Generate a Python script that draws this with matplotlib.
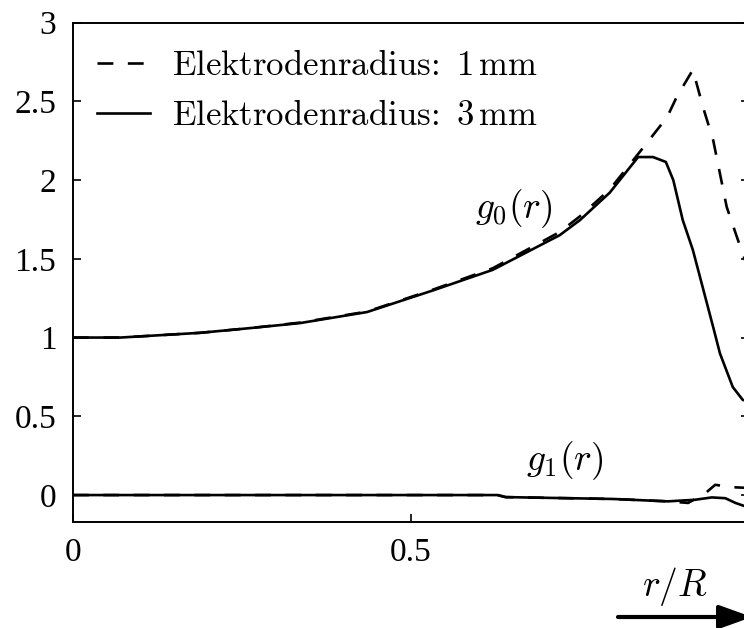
import matplotlib
matplotlib.use("Agg")
import matplotlib.pyplot as plt

plt.rcParams['font.family'] = ['cmr10', 'DejaVu Serif']
plt.rcParams['mathtext.fontset'] = 'cm'
plt.rcParams['axes.formatter.use_mathtext'] = True

# g0(r), electrode radius 3 mm (solid)
r_g0_3mm = [0.0, 0.07, 0.188, 0.262, 0.336, 0.435, 0.533, 0.621, 0.72, 0.75, 0.794,
            0.836, 0.858, 0.877, 0.888, 0.902, 0.917, 0.947, 0.957, 0.976, 0.991, 1.0]
g0_3mm = [1.0, 1.0, 1.03, 1.06, 1.092, 1.162, 1.30, 1.43, 1.65, 1.746, 1.92,
          2.146, 2.146, 2.115, 2.0, 1.746, 1.556, 1.067, 0.90, 0.686, 0.603, 0.60]

# g0(r), electrode radius 1 mm (dashed)
r_g0_1mm = [0.0, 0.07, 0.188, 0.262, 0.336, 0.435, 0.533, 0.621, 0.72, 0.75, 0.794,
            0.843, 0.879, 0.893, 0.917, 0.932, 0.947, 0.967, 0.982, 1.0]
g0_1mm = [1.0, 1.0, 1.03, 1.06, 1.095, 1.165, 1.305, 1.44, 1.67, 1.77, 1.94,
          2.203, 2.40, 2.527, 2.70, 2.463, 2.254, 1.83, 1.64, 1.42]

# g1(r)
r_g1_3mm = [0.0, 0.2, 0.4, 0.628, 0.64, 0.80, 0.88, 0.92, 0.945, 0.965, 0.98, 1.0]
g1_3mm = [0.0, 0.0, 0.0, 0.0, -0.013, -0.025, -0.04, -0.03, -0.015, -0.02, -0.05, -0.08]
r_g1_1mm = [0.0, 0.2, 0.4, 0.628, 0.64, 0.80, 0.88, 0.91, 0.935, 0.95, 0.975, 1.0]
g1_1mm = [0.0, 0.0, 0.0, 0.0, -0.013, -0.025, -0.04, -0.05, 0.01, 0.065, 0.05, 0.045]

x_ticks = [0, 0.5, 1]
x_tick_labels = ['0', '0.5', '1']
y_ticks = [0, 0.5, 1, 1.5, 2, 2.5, 3]
y_tick_labels = ['0', '0.5', '1', '1.5', '2', '2.5', '3']

fig = plt.figure(figsize=(7.44, 6.28), dpi=100)
ax = fig.add_axes([0.0981, 0.1688, 0.9086, 0.7953])

lw = 1.9
dash = (0, (6, 5.5))
ax.plot(r_g0_1mm, g0_1mm, color='k', lw=lw, ls=dash, label=r'Elektrodenradius: $\,$1$\,$mm')
ax.plot(r_g0_3mm, g0_3mm, color='k', lw=lw, label=r'Elektrodenradius: $\,$3$\,$mm')
ax.plot(r_g1_1mm, g1_1mm, color='k', lw=lw, ls=dash)
ax.plot(r_g1_3mm, g1_3mm, color='k', lw=lw)

ax.text(0.652, 1.82, r'$g_0(r)$', fontsize=27, ha='center', va='center')
ax.text(0.728, 0.216, r'$g_1(r)$', fontsize=27, ha='center', va='center')

ax.set_xlim(0, 1)
ax.set_ylim(-0.171, 3)
ax.set_xticks(x_ticks)
ax.set_xticklabels(x_tick_labels, fontfamily='Liberation Serif')
ax.set_yticks(y_ticks)
ax.set_yticklabels(y_tick_labels, fontfamily='Liberation Serif')
ax.tick_params(direction='in', length=6, width=1.2, labelsize=24,
               right=True, top=False)
ax.tick_params(axis='y', pad=12)
ax.tick_params(axis='x', pad=11)
for s in ax.spines.values():
    s.set_linewidth(1.4)

ax.legend(loc='upper left', bbox_to_anchor=(0.0355, 0.945), borderaxespad=0,
          borderpad=0, frameon=False, fontsize=25, handlelength=1.53,
          handletextpad=0.63, labelspacing=0.53)

# r/R arrow below the axis
fig.text(675 / 744, 1 - 587 / 628, r'$r/R$', fontsize=27, ha='center', va='center')
ax.annotate('', xy=(752, 11), xycoords='figure pixels',
            xytext=(618, 11), textcoords='figure pixels',
            arrowprops=dict(arrowstyle='-|>,head_length=1.0,head_width=0.36',
                            mutation_scale=20, lw=3, color='k',
                            shrinkA=0, shrinkB=0))

plt.savefig('out.png', dpi=100)
